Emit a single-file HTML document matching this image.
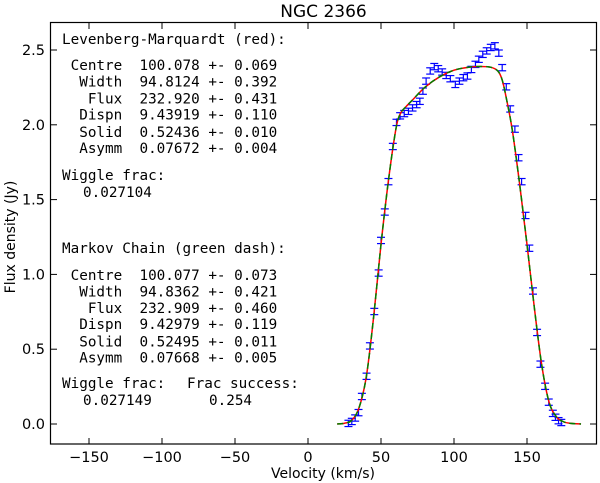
<!DOCTYPE html>
<html><head><meta charset="utf-8"><style>
html,body{margin:0;padding:0;background:#fff;}
svg{display:block;}
.mono{font-family:"DejaVu Sans Mono","Liberation Mono",monospace;font-size:14.3px;fill:#000;white-space:pre;}
.lab{font-family:"DejaVu Sans","Liberation Sans",sans-serif;fill:#000;}
</style></head><body>
<svg id="chart" width="600" height="483" xmlns="http://www.w3.org/2000/svg">
<rect x="0" y="0" width="600" height="483" fill="#fff"/>
<text class="lab" x="323.5" y="17" font-size="17" text-anchor="middle">NGC 2366</text>
<g id="marks"></g>
<rect x="50.5" y="22.5" width="546" height="421.5" fill="none" stroke="#000" stroke-width="1.2"/>
<g id="axes"></g>
<text class="lab" x="323" y="478" font-size="14" text-anchor="middle">Velocity (km/s)</text>
<text class="lab" x="0" y="0" font-size="14" text-anchor="middle" transform="translate(15,237) rotate(-90)">Flux density (Jy)</text>
<g xml:space="preserve">
<text class="mono" x="62" y="44" xml:space="preserve">Levenberg-Marquardt (red):</text>
<text class="mono" x="62" y="70" xml:space="preserve"> Centre  100.078 +- 0.069</text>
<text class="mono" x="62" y="86.5" xml:space="preserve">  Width  94.8124 +- 0.392</text>
<text class="mono" x="62" y="103.5" xml:space="preserve">   Flux  232.920 +- 0.431</text>
<text class="mono" x="62" y="119.5" xml:space="preserve">  Dispn  9.43919 +- 0.110</text>
<text class="mono" x="62" y="137" xml:space="preserve">  Solid  0.52436 +- 0.010</text>
<text class="mono" x="62" y="153" xml:space="preserve">  Asymm  0.07672 +- 0.004</text>
<text class="mono" x="62" y="180" xml:space="preserve">Wiggle frac:</text>
<text class="mono" x="83" y="197" xml:space="preserve">0.027104</text>
<text class="mono" x="62" y="253" xml:space="preserve">Markov Chain (green dash):</text>
<text class="mono" x="62" y="280" xml:space="preserve"> Centre  100.077 +- 0.073</text>
<text class="mono" x="62" y="296.5" xml:space="preserve">  Width  94.8362 +- 0.421</text>
<text class="mono" x="62" y="313" xml:space="preserve">   Flux  232.909 +- 0.460</text>
<text class="mono" x="62" y="329" xml:space="preserve">  Dispn  9.42979 +- 0.119</text>
<text class="mono" x="62" y="346.5" xml:space="preserve">  Solid  0.52495 +- 0.011</text>
<text class="mono" x="62" y="362.5" xml:space="preserve">  Asymm  0.07668 +- 0.005</text>
<text class="mono" x="62" y="388" xml:space="preserve">Wiggle frac:</text>
<text class="mono" x="187" y="388" xml:space="preserve">Frac success:</text>
<text class="mono" x="83" y="405" xml:space="preserve">0.027149</text>
<text class="mono" x="209" y="405" xml:space="preserve">0.254</text>
</g>
</svg>
<script>
// data
const xTicks = [-150,-100,-50,0,50,100,150];
const yTicks = [0.0,0.5,1.0,1.5,2.0,2.5];
const yTickLabels = ["0.0","0.5","1.0","1.5","2.0","2.5"];
const obsVel = [27.7,30,32.3,34.6,36.9,40.1,42.4,45.4,48.4,50,52.6,55.1,58.1,60.6,63.1,65.9,68.8,71.6,74.4,76.6,78.7,80.9,83.7,86.5,89.2,91.9,94.7,97.5,100.9,103.7,106.4,109.2,111.9,114.7,117,119.7,122.4,125.2,128,130.7,133,135.8,138.5,141.7,144.2,146.3,149,151.6,154.1,156.9,159.2,162.4,164.9,167.7,169.5,171.6,173.5];
const obsFlux = [0.004,0.017,0.04,0.076,0.184,0.319,0.522,0.752,1.009,1.227,1.417,1.62,1.855,2.016,2.06,2.075,2.09,2.113,2.135,2.157,2.225,2.292,2.36,2.389,2.375,2.353,2.33,2.308,2.27,2.292,2.315,2.326,2.37,2.404,2.438,2.471,2.494,2.517,2.528,2.479,2.382,2.254,2.106,1.971,1.78,1.62,1.394,1.175,0.889,0.612,0.4,0.252,0.146,0.071,0.045,0.022,0.01];
const obsErr = 0.021;
const modelVel = [20,25,30,35,40,45,50,55,60,63,67,72,80,90,100,110,118,125,130,133,136,140,145,150,155,160,165,170,175,180,187];
const modelFlux = [0.0,0.005,0.025,0.11,0.32,0.72,1.2,1.62,1.96,2.07,2.12,2.17,2.25,2.32,2.365,2.385,2.39,2.385,2.36,2.3,2.17,1.96,1.6,1.2,0.78,0.4,0.15,0.05,0.015,0.004,0.0];

const X = v => 308 + (v * 73 / 50);
const Y = f => 424 - f * 149.6;
const NS = "http://www.w3.org/2000/svg";
const marks = document.getElementById('marks');
const axes = document.getElementById('axes');
function mk(tag, attrs, parent){const e=document.createElementNS(NS,tag);for(const k in attrs)e.setAttribute(k,attrs[k]);parent.appendChild(e);return e;}

xTicks.forEach(t=>{
  const x=X(t);
  const g=mk('g',{},axes);
  
  
  mk('line',{x1:x,x2:x,y1:444,y2:438,stroke:'#000','stroke-width':1},g);
  mk('line',{x1:x,x2:x,y1:23,y2:29,stroke:'#000','stroke-width':1},g);
  const tx=mk('text',{x:x,y:462,'text-anchor':'middle','font-size':14.5,class:'lab'},g);
  tx.textContent=(t<0?'\u2212'+Math.abs(t):String(t));
});
yTicks.forEach((t,i)=>{
  const y=Y(t);
  const g=mk('g',{},axes);
  
  
  mk('line',{x1:51,x2:57,y1:y,y2:y,stroke:'#000','stroke-width':1},g);
  mk('line',{x1:596,x2:590,y1:y,y2:y,stroke:'#000','stroke-width':1},g);
  const tx=mk('text',{x:45,y:y+5,'text-anchor':'end','font-size':14.5,class:'lab'},g);
  tx.textContent=yTickLabels[i];
});

function smoothPath(xs, ys){
  const p=xs.map((v,i)=>[X(v),Y(ys[i])]);
  let d='M'+p[0][0]+','+p[0][1];
  for(let i=0;i<p.length-1;i++){
    const p0=p[Math.max(0,i-1)],p1=p[i],p2=p[i+1],p3=p[Math.min(p.length-1,i+2)];
    const c1=[p1[0]+(p2[0]-p0[0])/6,p1[1]+(p2[1]-p0[1])/6];
    const c2=[p2[0]-(p3[0]-p1[0])/6,p2[1]-(p3[1]-p1[1])/6];
    d+=' C'+c1[0]+','+c1[1]+' '+c2[0]+','+c2[1]+' '+p2[0]+','+p2[1];
  }
  return d;
}

const eb=mk('g',{},marks);


obsVel.forEach((v,i)=>{
  const x=X(v), y1=Y(obsFlux[i]+obsErr), y2=Y(obsFlux[i]-obsErr);
  const g=mk('g',{stroke:'#0000ff','stroke-width':1.2,fill:'none'},eb);
  
  
  mk('line',{x1:x,x2:x,y1:y1,y2:y2},g);
  mk('line',{x1:x-4,x2:x+4,y1:y1,y2:y1},g);
  mk('line',{x1:x-4,x2:x+4,y1:y2,y2:y2},g);
});

const d=smoothPath(modelVel,modelFlux);
const red=mk('path',{d:d,stroke:'#ff0000','stroke-width':1.5,fill:'none'},marks);


const green=mk('path',{d:d,stroke:'#007f00','stroke-width':1.5,fill:'none','stroke-dasharray':'6,4'},marks);


</script>
</body></html>
